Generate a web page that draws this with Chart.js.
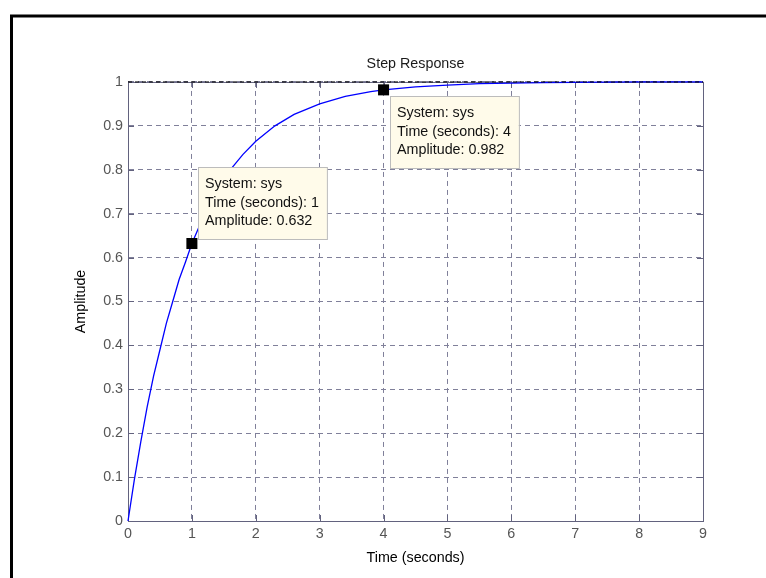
<!DOCTYPE html>
<html>
<head>
<meta charset="utf-8">
<script src="https://cdn.jsdelivr.net/npm/chart.js@4.4.1/dist/chart.umd.min.js"></script>
<style>
    html, body { margin: 0; padding: 0; background: #fff; }
    #wrap { width: 766px; height: 578px; position: relative; }
</style>
</head>
<body>
<div id="wrap"><canvas id="stepChart" width="766" height="578"></canvas></div>
<script>
// Step response
const timeValues = [0, 0.1, 0.2, 0.3, 0.4, 0.5, 0.6, 0.7, 0.8, 0.9, 1.0, 1.2, 1.4, 1.6, 1.8, 2.0, 2.3, 2.6, 3.0, 3.4, 3.8, 4.0, 4.5, 5.0, 5.5, 6.0, 6.5, 7.0, 8.0, 9.0];
const amplitudeValues = [0, 0.095, 0.18, 0.26, 0.33, 0.39, 0.45, 0.50, 0.55, 0.59, 0.632, 0.70, 0.753, 0.80, 0.835, 0.865, 0.90, 0.926, 0.95, 0.967, 0.978, 0.982, 0.989, 0.993, 0.996, 0.9975, 0.9985, 0.999, 1.0, 1.0];

// steady-state line
const steadyTime = [0, 9];
const steadyValue = [1, 1];

// data tips
const markerTime = [1, 4];
const markerAmplitude = [0.632, 0.982];
const systemName = 'sys';

const xTickLabels = ['0', '1', '2', '3', '4', '5', '6', '7', '8', '9'];
const yTickLabels = ['0', '0.1', '0.2', '0.3', '0.4', '0.5', '0.6', '0.7', '0.8', '0.9', '1'];

const FONT = "'Liberation Sans', Arial, sans-serif";
const axisColor = '#62627e';
const gridColor = '#80809a';
const tickColor = '#555555';
const tipPlacement = ['above', 'below'];

function toPoints(xs, ys) {
    return xs.map((x, i) => ({ x: x, y: ys[i] }));
}

const framePlugin = {
    id: 'frame',
    beforeDraw(chart) {
        const c = chart.ctx;
        c.save();
        c.strokeStyle = '#000';
        c.lineWidth = 3;
        c.beginPath();
        c.moveTo(11.5, 578);
        c.lineTo(11.5, 16);
        c.lineTo(766, 16);
        c.stroke();
        c.restore();
    },
    beforeDatasetsDraw(chart) {
        // MATLAB style box with inward ticks
        const c = chart.ctx;
        const { left, right, top, bottom } = chart.chartArea;
        const xs = chart.scales.x;
        const ys = chart.scales.y;
        c.save();
        c.strokeStyle = axisColor;
        c.lineWidth = 1;
        c.setLineDash([]);
        c.strokeRect(left + 0.5, top + 0.5, right - left, bottom - top);
        c.beginPath();
        xs.ticks.forEach(t => {
            const px = Math.round(xs.getPixelForValue(t.value)) + 0.5;
            c.moveTo(px, bottom);
            c.lineTo(px, bottom - 6);
            c.moveTo(px, top);
            c.lineTo(px, top + 6);
        });
        ys.ticks.forEach(t => {
            const py = Math.round(ys.getPixelForValue(t.value)) + 0.5;
            c.moveTo(left, py);
            c.lineTo(left + 6, py);
            c.moveTo(right, py);
            c.lineTo(right - 6, py);
        });
        c.stroke();
        c.restore();
    },
    beforeDatasetDraw(chart, args) {
        // data tips go under the square markers but over the curve
        if (args.index !== 0) return;
        const c = chart.ctx;
        const xs = chart.scales.x;
        const ys = chart.scales.y;
        c.save();
        c.font = '14.3px ' + FONT;
        c.textBaseline = 'middle';
        c.textAlign = 'left';
        markerTime.forEach((t, i) => {
            const lines = [
                'System: ' + systemName,
                'Time (seconds): ' + t,
                'Amplitude: ' + markerAmplitude[i]
            ];
            const px = xs.getPixelForValue(t);
            const py = ys.getPixelForValue(markerAmplitude[i]);
            const w = Math.max(...lines.map(l => c.measureText(l).width)) + 15;
            const h = 72;
            const bx = Math.round(px + 6);
            const by = tipPlacement[i] === 'above' ? Math.round(py - 5 - h) : Math.round(py + 6);
            c.fillStyle = '#fffbea';
            c.fillRect(bx, by, w, h);
            c.strokeStyle = '#bcbcbc';
            c.lineWidth = 1;
            c.strokeRect(bx + 0.5, by + 0.5, w, h);
            c.fillStyle = '#111';
            lines.forEach((l, j) => {
                c.fillText(l, bx + 7, by + 17 + j * 18.7);
            });
        });
        c.restore();
    }
};

const ctx = document.getElementById('stepChart').getContext('2d');
const chart = new Chart(ctx, {
    type: 'line',
    data: {
        datasets: [
            {
                label: 'tips',
                data: toPoints(markerTime, markerAmplitude),
                showLine: false,
                pointStyle: 'rect',
                pointRadius: 7.8,
                backgroundColor: '#000',
                borderColor: '#000',
                borderWidth: 0,
                clip: false
            },
            {
                label: 'steady',
                data: toPoints(steadyTime, steadyValue),
                borderColor: '#000',
                borderWidth: 1,
                borderDash: [4, 3],
                pointRadius: 0,
                fill: false,
                clip: false
            },
            {
                label: 'sys',
                data: toPoints(timeValues, amplitudeValues),
                borderColor: '#0000ff',
                borderWidth: 1.3,
                pointRadius: 0,
                tension: 0,
                fill: false,
                clip: false
            }
        ]
    },
    options: {
        responsive: false,
        animation: false,
        devicePixelRatio: 1,
        layout: { padding: { left: 0, top: 0, right: 63, bottom: 0 } },
        plugins: {
            legend: { display: false },
            tooltip: { enabled: false },
            title: {
                display: true,
                text: 'Step Response',
                fullSize: false,
                color: '#1a1a1a',
                font: { family: FONT, size: 14.3, weight: 'normal', lineHeight: 1.2 },
                padding: { top: 55, bottom: 9.8 }
            }
        },
        scales: {
            x: {
                type: 'linear',
                min: 0,
                max: 9,
                afterFit(s) { s.height = 57; },
                ticks: {
                    stepSize: 1,
                    padding: 4,
                    color: tickColor,
                    font: { family: FONT, size: 14.3 },
                    maxRotation: 0,
                    callback: (v, i) => xTickLabels[i]
                },
                grid: { color: gridColor, drawTicks: false, lineWidth: 1 },
                border: { display: true, color: axisColor, width: 1, dash: [5, 4] },
                title: {
                    display: true,
                    text: 'Time (seconds)',
                    color: '#000',
                    font: { family: FONT, size: 14.3 },
                    padding: { top: 0, bottom: 11 }
                }
            },
            y: {
                type: 'linear',
                min: 0,
                max: 1,
                afterFit(s) { s.width = 128; },
                ticks: {
                    stepSize: 0.1,
                    padding: 5,
                    color: tickColor,
                    font: { family: FONT, size: 14.3 },
                    callback: (v, i) => yTickLabels[i]
                },
                grid: { color: gridColor, drawTicks: false, lineWidth: 1 },
                border: { display: true, color: axisColor, width: 1, dash: [5, 4] },
                title: {
                    display: true,
                    text: 'Amplitude',
                    color: '#000',
                    font: { family: FONT, size: 14.3 },
                    padding: { top: 72, bottom: 0 }
                }
            }
        }
    },
    plugins: [framePlugin]
});
</script>
</body>
</html>
